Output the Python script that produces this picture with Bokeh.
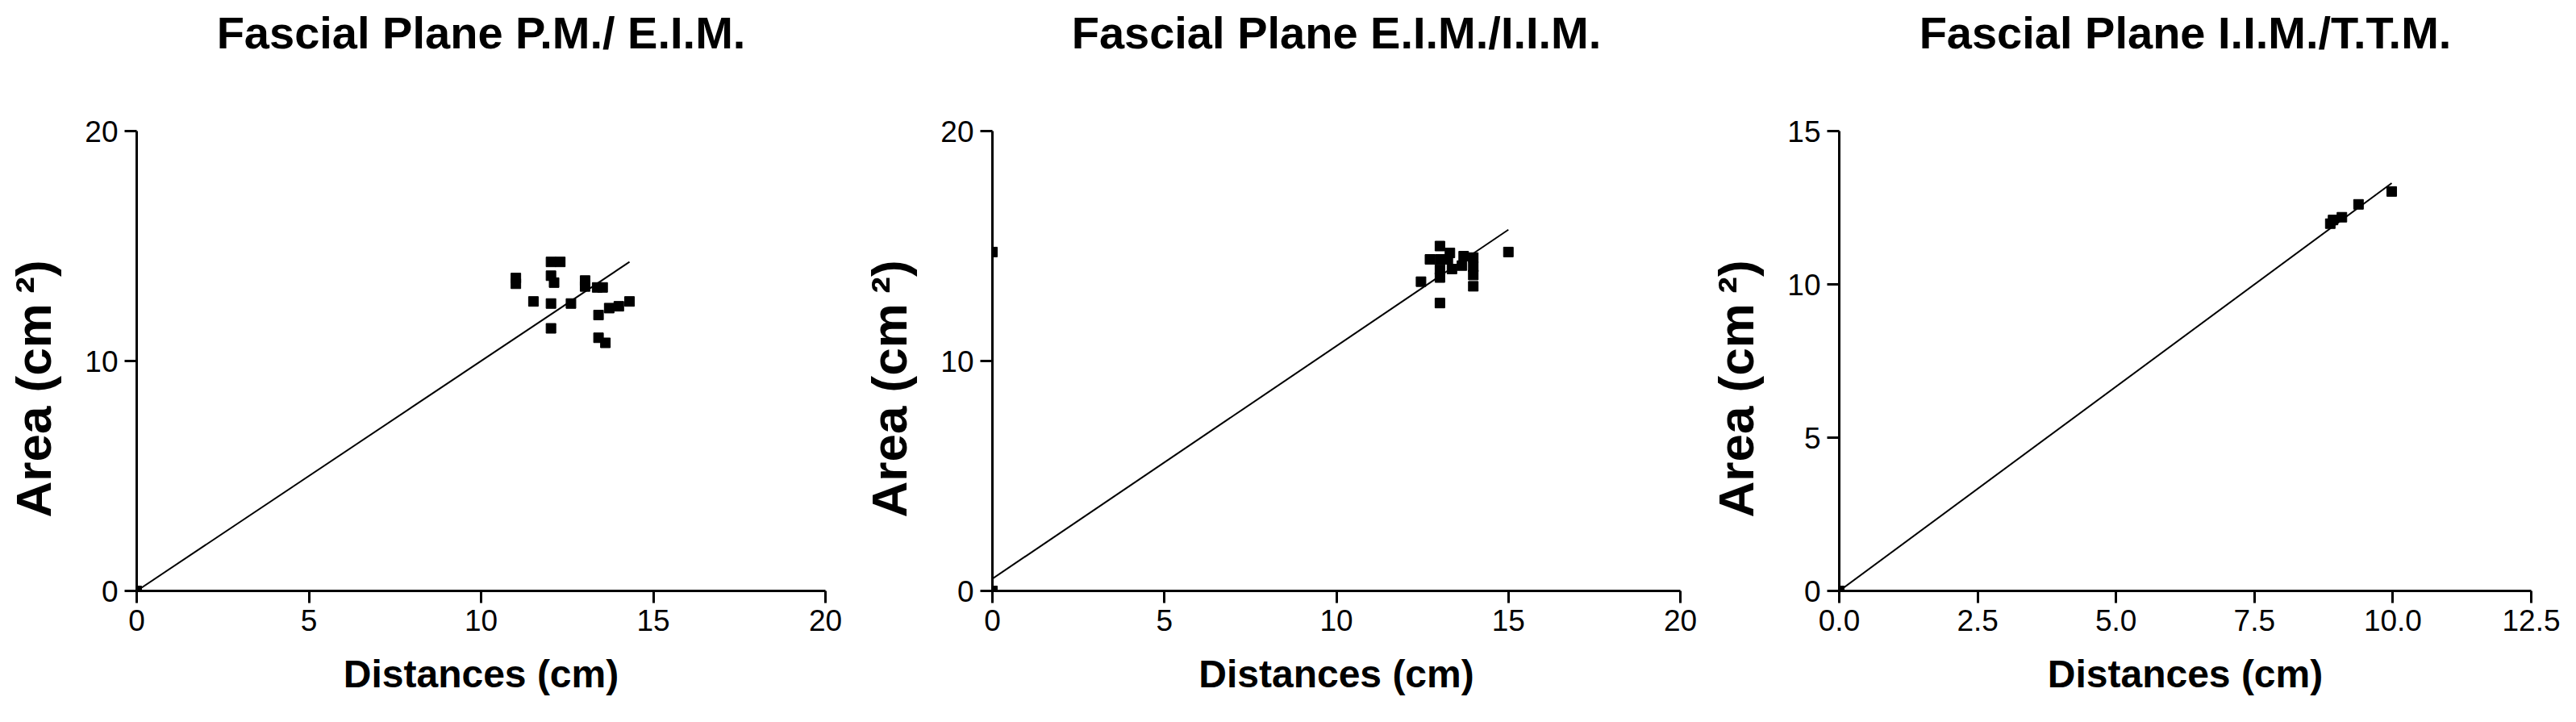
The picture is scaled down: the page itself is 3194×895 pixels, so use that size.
from bokeh.plotting import figure
from bokeh.layouts import row
from bokeh.models import FixedTicker, PrintfTickFormatter, Range1d, Title
from bokeh.embed import file_html
from bokeh.resources import INLINE

# ---- data ----
titles = ["Fascial Plane P.M./ E.I.M.", "Fascial Plane E.I.M./I.I.M.", "Fascial Plane I.I.M./T.T.M."]

pm_x = [0, 11.01, 11.01, 11.52, 12.03, 12.30, 12.03, 12.12, 12.03, 12.03, 12.61,
        13.02, 13.02, 13.37, 13.53, 13.41, 13.72, 14.00, 14.31, 13.41, 13.61]
pm_y = [0, 13.61, 13.36, 12.59, 14.31, 14.31, 13.71, 13.41, 12.50, 11.42, 12.50,
        13.50, 13.24, 13.20, 13.20, 12.00, 12.30, 12.38, 12.59, 11.01, 10.79]

eim_x = [0, 0, 12.46, 13.01, 15.0, 13.98, 13.01, 12.72, 13.01, 13.24, 13.01, 13.01,
         13.30, 13.36, 13.65, 13.70, 13.98, 13.98, 13.98]
eim_y = [0, 14.74, 13.45, 12.52, 14.74, 13.25, 15.0, 14.42, 14.42, 14.42, 13.98, 13.63,
         14.70, 14.0, 14.15, 14.56, 14.5, 14.1, 13.74]

iim_x = [0, 8.87, 8.92, 9.08, 9.38, 9.98]
iim_y = [0, 11.98, 12.10, 12.19, 12.61, 13.03]

fit_slopes = [1.0, 1.012, 1.333]
fit_intercepts = [0.0, 0.53, 0.0]

x_ends = [20, 20, 12.5]
y_ends = [20, 20, 15]
x_ticks = [[0, 5, 10, 15, 20], [0, 5, 10, 15, 20], [0, 2.5, 5, 7.5, 10, 12.5]]
y_ticks = [[0, 10, 20], [0, 10, 20], [0, 5, 10, 15]]
x_formats = ["%d", "%d", "%.1f"]

x_label = "Distances (cm)"
y_label = "Area (cm\u2009\u00b2)\u00a0\u00a0\u00a0\u00a0"

xs_all = [pm_x, eim_x, iim_x]
ys_all = [pm_y, eim_y, iim_y]

# layout (pixels)
widths = [1058, 1050, 1078]
left_borders = [169, 172, 172]
frame_widths = [854, 853, 858]
FONT = "Liberation Sans"

figs = []
for i in range(3):
    w = widths[i]
    p = figure(width=w, height=879, output_backend="svg", toolbar_location=None,
               x_range=Range1d(0, x_ends[i]), y_range=Range1d(0, y_ends[i]),
               min_border_left=left_borders[i],
               min_border_right=w - left_borders[i] - frame_widths[i],
               min_border_top=162, min_border_bottom=147)
    p.title.text = ""
    p.title.standoff = 0
    # spacer (nearest the frame), then the visible title above it
    p.add_layout(Title(text=" ", text_font_size="79px", standoff=0), "above")
    p.add_layout(Title(text=titles[i], align="center", text_font=FONT,
                       text_font_style="bold", text_font_size="56px",
                       text_color="black", standoff=0), "above")
    p.outline_line_color = None
    p.grid.visible = False

    for ax in (p.xaxis[0], p.yaxis[0]):
        ax.axis_line_width = 3
        ax.axis_line_color = "black"
        ax.major_tick_line_width = 3
        ax.major_tick_line_color = "black"
        ax.major_tick_out = 15
        ax.major_tick_in = 0
        ax.minor_tick_line_color = None
        ax.major_label_text_font = FONT
        ax.major_label_text_font_size = "37px"
        ax.major_label_text_color = "black"
        ax.major_label_standoff = 8
        ax.axis_label_text_font = FONT
        ax.axis_label_text_font_style = "bold"
        ax.axis_label_text_color = "black"

    p.xaxis.axis_label_text_font_size = "48px"
    p.yaxis.axis_label_text_font_size = "62px"
    p.xaxis.ticker = FixedTicker(ticks=x_ticks[i])
    p.yaxis.ticker = FixedTicker(ticks=y_ticks[i])
    p.xaxis.formatter = PrintfTickFormatter(format=x_formats[i])
    p.yaxis.formatter = PrintfTickFormatter(format="%d")
    p.xaxis.axis_label = x_label
    p.yaxis.axis_label = y_label
    p.xaxis.axis_label_standoff = 24
    p.yaxis.axis_label_standoff = 26

    xs = xs_all[i]
    ys = ys_all[i]
    x0, x1 = min(xs), max(xs)
    p.line([x0, x1], [fit_intercepts[i] + fit_slopes[i] * x0, fit_intercepts[i] + fit_slopes[i] * x1],
           line_color="black", line_width=2)
    p.scatter(xs, ys, marker="square", size=12, fill_color="black", line_color="black")
    figs.append(p)

layout = row(*figs)
open("out.html", "w").write(file_html(layout, INLINE))
